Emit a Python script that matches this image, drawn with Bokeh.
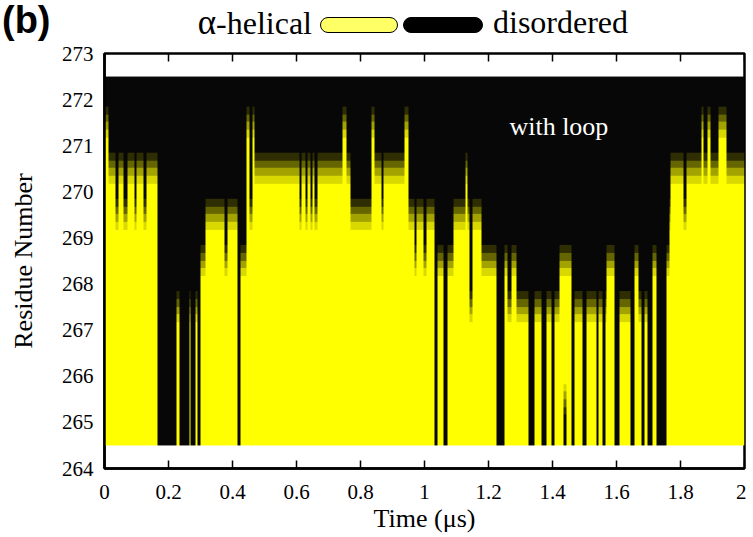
import numpy as np
from bokeh.plotting import figure
from bokeh.layouts import column
from bokeh.models import LinearColorMapper, Range1d, FixedTicker, Label, Div
from bokeh.embed import file_html
from bokeh.resources import INLINE

# ---------------- data ----------------
residues = [265, 266, 267, 268, 269, 270, 271, 272]
time_end = 2.0
frame_dt = 0.0025
# helical stretch per time segment: residues seg_bot..seg_top are helical (seg_top=264 -> none)
seg_start = [0.000, 0.012, 0.035, 0.045, 0.060, 0.072, 0.092, 0.100, 0.122, 0.132,
             0.165, 0.226, 0.234, 0.264, 0.270, 0.284, 0.290, 0.300, 0.316, 0.375,
             0.386, 0.414, 0.424, 0.445, 0.452, 0.462, 0.470,
             0.610, 0.616, 0.628, 0.634, 0.644, 0.650, 0.658, 0.664,
             0.745, 0.756, 0.767, 0.834, 0.845, 0.864, 0.872,
             0.938, 0.950, 0.968, 0.975, 0.998, 1.006,
             1.030, 1.040, 1.060, 1.072, 1.090, 1.128, 1.136, 1.140, 1.150, 1.178,
             1.225, 1.251, 1.261, 1.272, 1.287, 1.324, 1.345, 1.366, 1.381, 1.397,
             1.405, 1.422, 1.434, 1.444, 1.459, 1.469, 1.495, 1.506, 1.537, 1.545,
             1.557, 1.565, 1.568, 1.594, 1.609, 1.646, 1.657, 1.670, 1.677, 1.688,
             1.698, 1.712, 1.724, 1.756, 1.764, 1.771,
             1.810, 1.818, 1.866, 1.872, 1.886, 1.892, 1.918, 1.944]
seg_top = [271, 270, 269, 270, 269, 270, 269, 270, 269, 270,
           264, 267, 264, 267, 264, 267, 264, 268, 269, 268,
           269, 264, 268, 271, 269, 271, 270,
           269, 270, 269, 270, 269, 270, 269, 270,
           271, 270, 269, 271, 270, 269, 270,
           271, 269, 268, 269, 268, 269,
           264, 268, 264, 268, 269, 270, 269, 267, 269, 268,
           264, 268, 267, 268, 267, 264, 267, 264, 267, 264,
           267, 268, 268, 268, 264, 267, 264, 267, 264, 267,
           264, 267, 268, 264, 267, 264, 268, 267, 264, 267,
           264, 268, 264, 268, 269, 270,
           269, 270, 271, 270, 271, 270, 271, 270]
seg_bot = [265] * len(seg_top)
seg_bot[seg_start.index(1.434)] = 266

y_ticks = [264, 265, 266, 267, 268, 269, 270, 271, 272, 273]
x_ticks = [0, 0.2, 0.4, 0.6, 0.8, 1.0, 1.2, 1.4, 1.6, 1.8, 2.0]
x_tick_labels = ["0", "0.2", "0.4", "0.6", "0.8", "1", "1.2", "1.4", "1.6", "1.8", "2"]
palette = ["#070707", "#2e2e02", "#666600", "#a3a300", "#d9d900", "#ffff00"]
legend_labels = ["\u03b1", "-helical", "disordered"]
legend_colors = ["#ffff66", "#000000"]

# ---------------- build the interpolated map ----------------
n_frames = int(round(time_end / frame_dt))
t_c = (np.arange(n_frames) + 0.5) * frame_dt
idx = np.searchsorted(np.array(seg_start), t_c, side="right") - 1
top = np.array(seg_top)[idx]
bot = np.array(seg_bot)[idx]
res = np.array(residues)
helix = ((res[:, None] <= top[None, :]) & (res[:, None] >= bot[None, :])).astype(float)
sub = 30
y_lo = res.min() - 0.5
y_hi = res.max() + 0.5
ys = y_lo + (np.arange(int((y_hi - y_lo) * sub)) + 0.5) / sub
img = np.empty((len(ys), n_frames))
for j in range(n_frames):
    img[:, j] = np.interp(ys, res, helix[:, j])

# ---------------- layout constants ----------------
FW, FH = 640, 415
BL, BT, BR, BB = 104, 11, 2, 66
HDR_H = 42
TOTAL_W = BL + FW + BR

# ---------------- header (panel tag + colour legend) ----------------
pill = ("position:absolute;top:{t}px;left:{l}px;width:{w}px;height:{h}px;background:{c};"
        "border:1.2px solid #000;border-radius:8px;box-sizing:border-box;")
header_html = (
    f'<div style="position:relative;width:{TOTAL_W}px;height:{HDR_H}px;overflow:visible;">'
    '<span style="position:absolute;left:2px;top:1px;font-family:\'Liberation Sans\';'
    'font-weight:bold;font-size:38px;line-height:38px;color:#000;white-space:nowrap;">(b)</span>'
    f'<span style="position:absolute;right:{TOTAL_W - 312}px;top:7px;font-family:\'Liberation Serif\';'
    f'font-size:32px;line-height:31px;color:#000;white-space:nowrap;">'
    f'<span style="font-size:35px;">{legend_labels[0]}</span>{legend_labels[1]}</span>'
    + pill.format(t=17, l=320, w=78, h=16, c=legend_colors[0]).join(['<div style="', '"></div>'])
    + pill.format(t=17, l=403, w=80, h=16, c=legend_colors[1]).join(['<div style="', '"></div>'])
    + f'<span style="position:absolute;left:493px;top:7px;font-family:\'Liberation Serif\';'
    f'font-size:32px;line-height:31px;color:#000;white-space:nowrap;">{legend_labels[2]}</span>'
    '</div>'
)
hdr = Div(text=header_html, width=TOTAL_W, height=HDR_H, margin=(0, 0, 0, 0))

# ---------------- main plot ----------------
p = figure(frame_width=FW, frame_height=FH, x_range=Range1d(0, time_end),
           y_range=Range1d(y_ticks[0], y_ticks[-1]), output_backend="svg",
           toolbar_location=None, min_border_left=BL, min_border_top=BT,
           min_border_right=BR, min_border_bottom=BB, background_fill_color="white",
           margin=(0, 0, 0, 0))
p.grid.visible = False
mapper = LinearColorMapper(palette=palette, low=0, high=1)
p.image(image=[img], x=0, y=y_lo, dw=time_end, dh=y_hi - y_lo, color_mapper=mapper)

# inward ticks along the top edge (mirror of the bottom axis)
tick_len = 8 * (y_ticks[-1] - y_ticks[0]) / FH
p.segment(x0=x_ticks, y0=[y_ticks[-1]] * len(x_ticks), x1=x_ticks,
          y1=[y_ticks[-1] - tick_len] * len(x_ticks), line_color="black", line_width=1.5)

p.add_layout(Label(x=1.42, y=271.42, text="with loop", text_color="white",
                   text_font="Liberation Serif", text_font_size="26px",
                   text_align="center", text_baseline="middle"))

p.outline_line_color = "black"
p.outline_line_width = 2.5
p.outline_line_alpha = 1

for ax in p.xaxis:
    ax.ticker = FixedTicker(ticks=x_ticks)
    ax.major_label_overrides = {t: l for t, l in zip(x_ticks, x_tick_labels)}
    ax.major_tick_in = 8
    ax.major_tick_out = 0
    ax.minor_tick_line_color = None
    ax.major_tick_line_width = 1.5
    ax.major_tick_line_color = "black"
    ax.axis_line_width = 2.5
    ax.axis_line_color = "black"
    ax.major_label_standoff = 16
    ax.major_label_text_font = "Liberation Serif"
    ax.major_label_text_font_size = "21px"
    ax.major_label_text_color = "black"
    ax.axis_label = "Time (\u03bcs)"
    ax.axis_label_text_font = "Liberation Serif"
    ax.axis_label_text_font_size = "26px"
    ax.axis_label_text_font_style = "normal"
    ax.axis_label_text_color = "black"
    ax.axis_label_standoff = 2

for ax in p.yaxis:
    ax.ticker = FixedTicker(ticks=y_ticks)
    ax.major_tick_in = 0
    ax.major_tick_out = 0
    ax.minor_tick_line_color = None
    ax.axis_line_width = 2.5
    ax.axis_line_color = "black"
    ax.major_label_standoff = 11
    ax.major_label_text_font = "Liberation Serif"
    ax.major_label_text_font_size = "21px"
    ax.major_label_text_color = "black"
    ax.axis_label = "Residue Number"
    ax.axis_label_text_font = "Liberation Serif"
    ax.axis_label_text_font_size = "26px"
    ax.axis_label_text_font_style = "normal"
    ax.axis_label_text_color = "black"
    ax.axis_label_standoff = 21

layout = column(hdr, p, spacing=0, margin=(0, 0, 0, 0))
open("out.html", "w").write(file_html(layout, INLINE))
